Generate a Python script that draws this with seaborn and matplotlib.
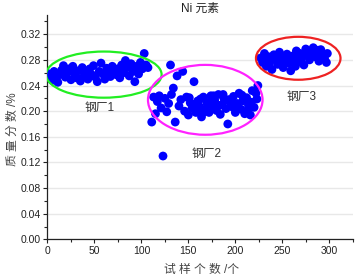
import matplotlib
matplotlib.use("Agg")
import matplotlib.pyplot as plt
from matplotlib.patches import Ellipse
from matplotlib.ticker import MultipleLocator
import seaborn as sns
import pandas as pd

# 钢厂1
x1 = [0, 3, 5, 7, 9, 11, 13, 15, 17, 19, 21, 23, 25, 27, 29, 31, 33, 35, 37, 39, 41, 43, 45, 47, 49, 51, 53,
      55, 57, 59, 61, 63, 65, 67, 69, 71, 73, 75, 77, 79, 81, 83, 85, 87, 89, 91, 93, 95, 97, 99, 101, 103, 105, 107]
y1 = [0.259, 0.255, 0.248, 0.262, 0.251, 0.245, 0.257, 0.264, 0.271, 0.253, 0.260, 0.266, 0.249, 0.270, 0.258,
      0.252, 0.263, 0.247, 0.268, 0.255, 0.261, 0.250, 0.266, 0.257, 0.271, 0.253, 0.246, 0.262, 0.275, 0.258,
      0.250, 0.267, 0.261, 0.254, 0.270, 0.263, 0.257, 0.266, 0.252, 0.272, 0.260, 0.279, 0.268, 0.255, 0.274,
      0.262, 0.246, 0.270, 0.258, 0.276, 0.266, 0.290, 0.272, 0.268]

# 钢厂2
x2 = [111, 113, 115, 117, 119, 121, 123, 125, 127, 129, 131, 132, 134, 136, 138, 140, 142, 144, 146, 148, 150,
      151, 152, 154, 156, 157, 158, 160, 162, 163, 164, 166, 167, 168, 170, 172, 173, 174, 176, 177, 178, 180,
      182, 183, 184, 186, 187, 188, 190, 192, 193, 194, 196, 197, 198, 200, 202, 203, 204, 206, 207, 208, 210,
      212, 213, 214, 216, 217, 218, 220, 222, 223, 224]
y2 = [0.183, 0.222, 0.196, 0.215, 0.224, 0.205, 0.130, 0.220, 0.199, 0.212, 0.272, 0.226, 0.236, 0.183, 0.255,
      0.208, 0.218, 0.262, 0.200, 0.222, 0.194, 0.221, 0.213, 0.205, 0.246, 0.211, 0.198, 0.216, 0.207, 0.219,
      0.191, 0.222, 0.199, 0.203, 0.212, 0.198, 0.215, 0.224, 0.208, 0.224, 0.217, 0.201, 0.226, 0.209, 0.195,
      0.210, 0.226, 0.219, 0.204, 0.180, 0.218, 0.215, 0.207, 0.213, 0.223, 0.198, 0.212, 0.205, 0.228, 0.203,
      0.225, 0.216, 0.196, 0.221, 0.201, 0.209, 0.194, 0.214, 0.232, 0.206, 0.228, 0.219, 0.240]

# 钢厂3
x3 = [227, 229, 230, 231, 233, 235, 236, 237, 239, 241, 243, 244, 245, 247, 249, 250, 251, 253, 255, 257, 258,
      259, 261, 263, 264, 265, 267, 269, 270, 271, 273, 275, 276, 277, 279, 281, 282, 283, 285, 287, 288, 289,
      291, 293, 294, 295, 297, 298]
y3 = [0.283, 0.276, 0.280, 0.290, 0.270, 0.285, 0.272, 0.278, 0.265, 0.288, 0.280, 0.286, 0.273, 0.292, 0.284,
      0.277, 0.268, 0.279, 0.289, 0.275, 0.283, 0.263, 0.286, 0.281, 0.270, 0.294, 0.277, 0.290, 0.281, 0.284,
      0.272, 0.297, 0.290, 0.287, 0.280, 0.293, 0.286, 0.299, 0.285, 0.291, 0.295, 0.278, 0.296, 0.288, 0.283,
      0.282, 0.276, 0.290]

df = pd.DataFrame({"x": x1 + x2 + x3, "y": y1 + y2 + y3})

sns.set_theme(style="ticks")
plt.rcParams['font.family'] = ['Liberation Sans', 'Noto Sans CJK SC']

fig = plt.figure(figsize=(3.57, 2.78), dpi=100)
ax = fig.add_axes([0.133, 0.139, 0.855, 0.807])

sns.scatterplot(data=df, x="x", y="y", color="#0000ff", s=40, edgecolor="none", ax=ax, zorder=3)

ax.add_patch(Ellipse((60, 0.257), 123, 0.072, fill=False, edgecolor="#22ee22", lw=1.6, zorder=4))
ax.add_patch(Ellipse((168, 0.2177), 122, 0.109, fill=False, edgecolor="#ff22ff", lw=1.6, zorder=4))
ax.add_patch(Ellipse((267, 0.2825), 90, 0.067, fill=False, edgecolor="#ee2222", lw=1.6, zorder=4))

ax.text(56, 0.205, "钢厂1", ha="center", va="center", fontsize=8.5, color="#333333")
ax.text(169, 0.133, "钢厂2", ha="center", va="center", fontsize=8.5, color="#333333")
ax.text(271, 0.222, "钢厂3", ha="center", va="center", fontsize=8.5, color="#333333")

ax.set_xlim(0, 325)
ax.set_ylim(0, 0.35)
ax.xaxis.set_major_locator(MultipleLocator(50))
ax.xaxis.set_minor_locator(MultipleLocator(25))
ax.yaxis.set_minor_locator(MultipleLocator(0.02))
ax.set_yticks([0, 0.04, 0.08, 0.12, 0.16, 0.20, 0.24, 0.28, 0.32])
ax.set_yticklabels(["0.00", "0.04", "0.08", "0.12", "0.16", "0.20", "0.24", "0.28", "0.32"])
ax.yaxis.grid(True, color="#e8e8e8", lw=1.0, zorder=0)
ax.set_axisbelow(True)
ax.tick_params(which="major", length=3, width=0.8, labelsize=7.5, colors="#222222", pad=2)
ax.tick_params(which="minor", length=2, width=0.8)
sns.despine(ax=ax)
for s in ["left", "bottom"]:
    ax.spines[s].set_color("#222222")
    ax.spines[s].set_linewidth(0.9)

ax.set_title("Ni 元素", fontsize=8.5, color="#222222", pad=-3)
ax.set_xlabel("试 样 个 数 /个", fontsize=8.5, color="#444444")
ax.set_ylabel("质 量 分 数 /%", fontsize=8.5, color="#444444")
ax.xaxis.set_label_coords(0.505, -0.11)
ax.yaxis.set_label_coords(-0.095, 0.49)

fig.savefig("out.png", dpi=100)
